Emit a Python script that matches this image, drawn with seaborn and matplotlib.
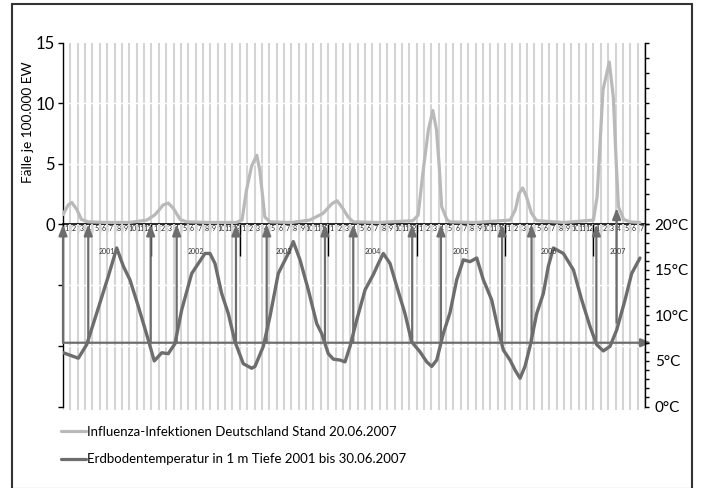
import numpy as np
import pandas as pd
import matplotlib
matplotlib.use("Agg")
import matplotlib.pyplot as plt
import seaborn as sns
from matplotlib.lines import Line2D
from matplotlib.patches import Rectangle

# ---------------- data ----------------
# x positions are in months since Jan 2001 (0 = start of Jan 2001)
flu_month = [0.0, 0.7, 1.2, 1.9, 2.5, 3.4, 6, 9, 11.4, 12.5, 13.6, 14.3, 15.0, 15.9, 16.8,
             20, 23.5, 24.3, 24.9, 25.6, 26.3, 26.7, 27.1, 27.4, 28.1, 31, 33.5, 35.3, 36.5,
             37.2, 38.0, 38.7, 39.4, 43, 47.5, 48.2, 48.9, 49.6, 50.2, 50.7, 51.1, 51.4, 52.1,
             52.5, 56, 60.7, 61.4, 61.9, 62.4, 62.9, 63.6, 64.3, 68, 72.0, 72.5, 72.9, 73.3,
             74.15, 74.7, 75.1, 75.4, 76.1, 77.0, 78.3]
flu_value = [0.8, 1.6, 1.8, 1.2, 0.4, 0.2, 0.15, 0.15, 0.35, 0.8, 1.6, 1.75, 1.3, 0.4, 0.2,
             0.15, 0.15, 0.35, 2.8, 4.8, 5.7, 4.5, 2.3, 0.6, 0.2, 0.15, 0.35, 0.9, 1.7,
             1.95, 1.3, 0.6, 0.2, 0.15, 0.3, 0.75, 4.5, 7.8, 9.4, 7.8, 4.5, 1.45, 0.4,
             0.2, 0.15, 0.35, 1.2, 2.55, 3.0, 2.3, 0.9, 0.3, 0.15, 0.35, 2.3, 6.7, 11.1,
             13.4, 10.5, 5.0, 1.45, 0.4, 0.2, 0.15]

temp_month = [0.04, 2.08, 3.22, 4.79, 6.15, 7.29, 8.19, 9.09, 10.22, 11.58, 12.39, 13.40, 14.29,
              15.20, 16.11, 17.47, 18.37, 19.27, 19.95, 20.63, 21.54, 22.44, 23.35, 24.47, 25.61,
              26.06, 27.19, 28.10, 29.22, 29.90, 30.58, 31.26, 32.17, 33.30, 34.44, 35.12, 36.01,
              36.69, 37.60, 38.28, 38.96, 39.87, 41.0, 42.13, 42.81, 43.48, 44.39, 45.30, 46.42,
              47.33, 48.46, 49.37, 50.05, 50.73, 51.62, 52.53, 53.44, 54.34, 55.25, 56.16, 57.06,
              58.19, 59.09, 59.77, 60.68, 61.36, 62.04, 62.71, 63.39, 64.30, 65.20, 65.88, 66.56,
              67.92, 69.28, 70.41, 71.53, 72.44, 73.34, 74.25, 75.16, 76.29, 77.19, 78.32]
temp_value = [5.9, 5.3, 6.8, 10.8, 14.3, 17.4, 15.4, 13.9, 11.0, 7.3, 5.0, 5.9, 5.8,
              6.9, 10.6, 14.6, 15.7, 16.8, 16.8, 15.7, 12.4, 10.2, 7.1, 4.7, 4.2,
              4.4, 6.6, 9.9, 14.6, 15.7, 16.8, 18.1, 16.1, 12.8, 9.1, 8.0, 5.8,
              5.2, 5.1, 4.9, 6.6, 9.5, 12.8, 14.5, 15.7, 16.8, 15.7, 13.2, 10.2,
              7.1, 6.0, 4.9, 4.4, 5.1, 8.0, 10.3, 13.9, 16.1, 15.9, 16.3, 13.9,
              11.7, 8.4, 6.2, 5.1, 4.0, 3.1, 4.4, 6.6, 10.2, 12.4, 15.4, 17.4,
              16.8, 15.0, 11.7, 8.8, 6.8, 6.1, 6.6, 8.4, 11.7, 14.6, 16.3]

n_months = 79                      # Jan 2001 .. Jul 2007
month_names = ["1", "2", "3", "4", "5", "6", "7", "8", "9", "10", "11", "12"]
years = ["2001", "2002", "2003", "2004", "2005", "2006", "2007"]
year_label_month = [6, 18, 30, 42, 54, 66, 75.3]
year_bounds = [12, 24, 36, 48, 60, 72]

threshold_temp = 7.0
arrow_month = [0, 3.43, 11.9, 15.43, 23.48, 27.65, 35.56, 39.4, 47.4, 51.3, 59.6, 63.6, 72.4]
special_arrow = (75.15, 9.2, 1.35)   # month, start temperature, tip in flu units

flu_ticks = [0, 5, 10, 15]
temp_ticks = [0, 5, 10, 15, 20]
temp_labels = ["0°C", "5°C", "10°C", "15°C", "20°C"]

label_flu = "Influenza-Infektionen Deutschland Stand 20.06.2007"
label_temp = "Erdbodentemperatur in 1 m Tiefe 2001 bis 30.06.2007"
ylabel = "Fälle je 100.000 EW"

# ---------------- style ----------------
sns.set_theme(style="white")
plt.rcParams["font.family"] = ["Lato", "DejaVu Sans"]
plt.rcParams["text.color"] = "black"

C_FLU = "#b9b9b9"
C_TMP = "#6d6d6d"
C_GRID = "#d4d4d4"

W, H = 702, 488
fig = plt.figure(figsize=(W / 100, H / 100), dpi=100)


def fx(px):
    return px / W


def fy(py):
    return 1 - py / H


X0, X1 = 63, 645
Y_TOP, Y_ZERO, Y_BOT = 42.7, 224.3, 409.7
ax_flu = fig.add_axes([fx(X0), fy(Y_ZERO), fx(X1) - fx(X0), fy(Y_TOP) - fy(Y_ZERO)])
ax_tmp = fig.add_axes([fx(X0), fy(Y_BOT), fx(X1) - fx(X0), fy(Y_ZERO) - fy(Y_BOT)])
for ax in (ax_flu, ax_tmp):
    ax.set_facecolor("none")
    ax.set_xlim(0, n_months)
ax_flu.set_ylim(0, 15)
ax_tmp.set_ylim(-0.35, 20)

# vertical month grid
bounds = np.arange(0, n_months + 1)
for ax in (ax_flu, ax_tmp):
    ax.set_xticks(bounds)
    ax.grid(axis="x", which="major", color=C_GRID, lw=1.5)
    ax.set_axisbelow(True)

# white horizontal grid lines
for v in [5, 10]:
    ax_flu.axhline(v, color="white", lw=1.0, zorder=1)
for v in [40 / 3, 20 / 3]:
    ax_tmp.axhline(v, color="white", lw=1.0, zorder=1)

# data lines
flu_df = pd.DataFrame({"month": flu_month, "value": flu_value})
tmp_df = pd.DataFrame({"month": temp_month, "value": temp_value})
sns.lineplot(data=flu_df, x="month", y="value", ax=ax_flu, color=C_FLU, lw=2.3,
             solid_joinstyle="round", solid_capstyle="round", zorder=3)
sns.lineplot(data=tmp_df, x="month", y="value", ax=ax_tmp, color=C_TMP, lw=2.4,
             solid_joinstyle="round", solid_capstyle="round", zorder=3)

# ---- flu axes styling ----
for s in ["top", "right"]:
    ax_flu.spines[s].set_visible(False)
ax_flu.spines["left"].set_color("black")
ax_flu.spines["left"].set_linewidth(1.0)
ax_flu.spines["bottom"].set_color("black")
ax_flu.spines["bottom"].set_linewidth(1.2)
ax_flu.set_yticks(flu_ticks)
ax_flu.tick_params(axis="y", left=True, length=3.6, width=1, color="black",
                   labelsize=12, pad=2, labelcolor="black")
ax_flu.tick_params(axis="x", which="major", bottom=True, direction="out", length=6,
                   width=0.9, color="black", labelbottom=False)
month_centers = bounds[:-1] + 0.5
ax_flu.set_xticks(month_centers, minor=True)
ax_flu.set_xticklabels([month_names[i % 12] for i in range(n_months)], minor=True)
ax_flu.tick_params(axis="x", which="minor", bottom=True, length=0, labelsize=5,
                   pad=0.3, labelcolor="#222222")
ax_flu.set_xlabel("")
ax_flu.set_ylabel(ylabel, fontsize=9.8, color="black")
ax_flu.yaxis.set_label_coords(-0.05, 0.56)

axr1 = ax_flu.twinx()
axr1.set_ylim(0, 15)
axr1.set_yticks(np.arange(0, 15.01, 1.25))
axr1.set_yticklabels([])
for s in ["top", "left", "bottom"]:
    axr1.spines[s].set_visible(False)
axr1.spines["right"].set_color("black")
axr1.spines["right"].set_linewidth(1.0)
axr1.tick_params(axis="y", right=True, length=3, width=1, color="black")

# ---- temperature axes styling ----
for s in ["top", "right", "bottom"]:
    ax_tmp.spines[s].set_visible(False)
ax_tmp.spines["left"].set_color("black")
ax_tmp.spines["left"].set_linewidth(1.0)
ax_tmp.spines["left"].set_bounds(0, 20)
ax_tmp.set_yticks([0, 20 / 3, 40 / 3])
ax_tmp.set_yticklabels([])
ax_tmp.tick_params(axis="y", left=True, length=3.3, width=1, color="black")
ax_tmp.tick_params(axis="x", bottom=False, labelbottom=False)
ax_tmp.set_xlabel("")
ax_tmp.set_ylabel("")

axr2 = ax_tmp.twinx()
axr2.set_ylim(ax_tmp.get_ylim())
axr2.set_yticks(temp_ticks)
axr2.set_yticklabels(temp_labels)
axr2.set_yticks(np.arange(0, 21, 1), minor=True)
for s in ["top", "left", "bottom"]:
    axr2.spines[s].set_visible(False)
axr2.spines["right"].set_color("black")
axr2.spines["right"].set_linewidth(1.0)
axr2.spines["right"].set_bounds(0, 20)
axr2.tick_params(axis="y", which="both", right=True, length=3, width=1, color="black",
                 labelsize=11, pad=4, labelcolor="black")

# year separators and year labels
ax_tmp.vlines(year_bounds, 16.5, 20, color="black", lw=1.0, zorder=4)
for yl, ym in zip(years, year_label_month):
    ax_tmp.text(ym, 17.0, yl, fontsize=5, ha="center", va="center", color="#333333",
                zorder=5)

# 7 °C threshold line with arrow
ax_tmp.annotate("", xy=(n_months + 0.85, threshold_temp), xytext=(0, threshold_temp),
                xycoords="data", textcoords="data", annotation_clip=False,
                arrowprops=dict(arrowstyle="-|>,head_length=0.6,head_width=0.25",
                                mutation_scale=10, color=C_TMP, lw=1.6,
                                shrinkA=0, shrinkB=0), zorder=4)

# vertical arrows at the crossings
for m in arrow_month:
    ax_tmp.annotate("", xy=(m, 20), xytext=(m, threshold_temp), annotation_clip=False,
                    arrowprops=dict(arrowstyle="-|>,head_length=0.65,head_width=0.25",
                                    mutation_scale=10, color=C_TMP, lw=1.6,
                                    shrinkA=0, shrinkB=0), zorder=4)
sm, st, sf = special_arrow
ax_tmp.annotate("", xy=(sm, sf), xycoords=ax_flu.transData,
                xytext=(sm, st), textcoords=ax_tmp.transData, annotation_clip=False,
                arrowprops=dict(arrowstyle="-|>,head_length=0.65,head_width=0.25",
                                mutation_scale=10, color=C_TMP, lw=1.6,
                                shrinkA=0, shrinkB=0), zorder=4)

# legend
handles = [Line2D([], [], color=C_FLU, lw=2.3), Line2D([], [], color=C_TMP, lw=2.3)]
fig.legend(handles, [label_flu, label_temp], loc="upper left",
           bbox_to_anchor=(fx(61.5), fy(425.5)), frameon=False, fontsize=9.5,
           handlelength=1.85, handletextpad=0.12, borderpad=0, borderaxespad=0,
           labelspacing=1.2)

# outer frame
fig.patches.append(Rectangle((fx(12), fy(489)), fx(692) - fx(12), fy(4) - fy(489),
                             transform=fig.transFigure, fill=False, ec="#333333",
                             lw=1.5))

fig.savefig("out.png", dpi=100)
